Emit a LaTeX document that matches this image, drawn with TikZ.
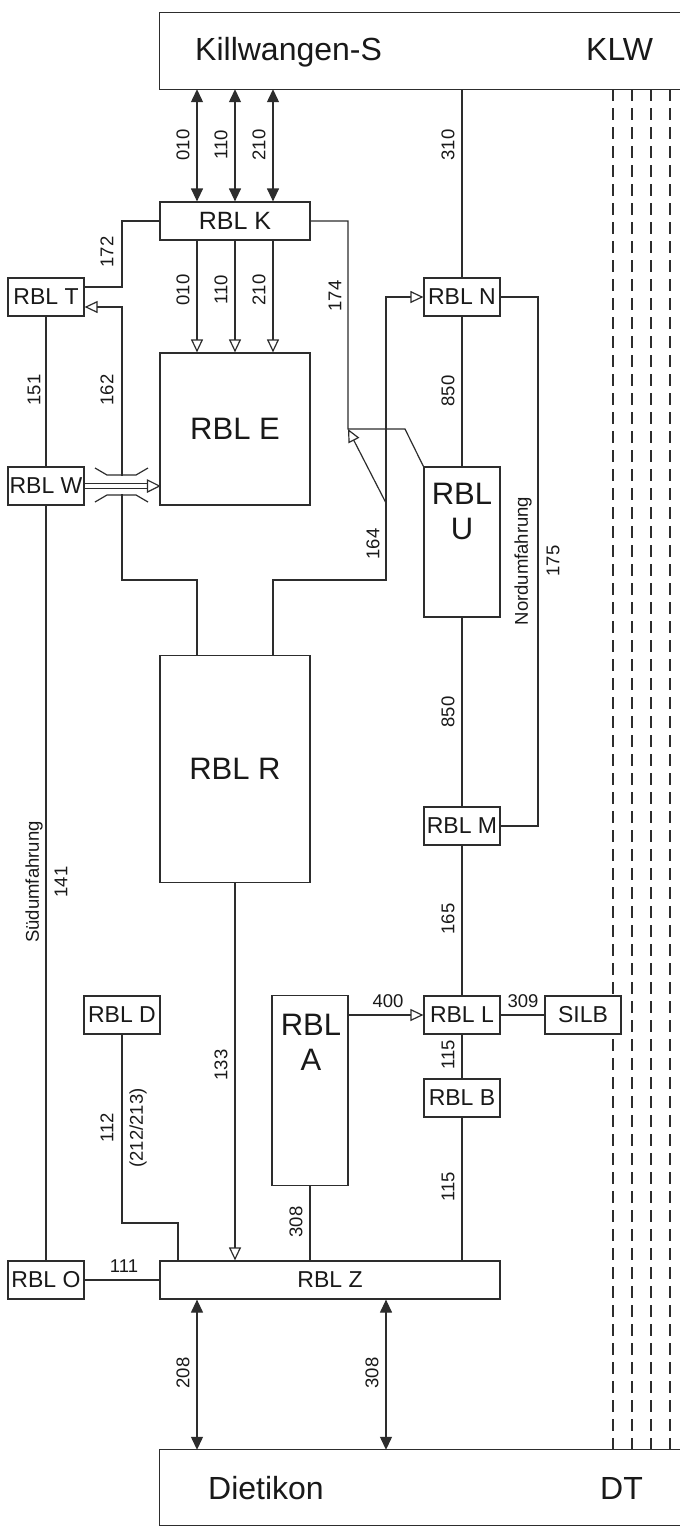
\documentclass[tikz,border=0pt]{standalone}
\usepackage{fontspec}
\setmainfont{Liberation Sans}
\usetikzlibrary{arrows.meta,calc}
\definecolor{lncol}{RGB}{45,45,45}
\definecolor{tx}{RGB}{25,25,25}
\begin{document}
\begin{tikzpicture}[x=1pt,y=-1pt,
  ln/.style={draw=lncol,line width=1.2pt},
  box/.style={draw=lncol,line width=1.2pt,rectangle,inner sep=0pt,text=tx,align=center,fill=white},
  sbox/.style={box,minimum width=76pt,minimum height=38pt,font=\fontsize{23}{26}\selectfont},
  bigbox/.style={box,font=\fontsize{31}{35}\selectfont},
  bigtxt/.style={text=tx,inner sep=0pt,align=center,font=\fontsize{31}{35}\selectfont},
  station/.style={text=tx,inner sep=0pt,font=\fontsize{32}{36}\selectfont,anchor=base west},
  lab/.style={text=tx,inner sep=0pt,font=\fontsize{18.5}{20}\selectfont,rotate=90},
  hlab/.style={text=tx,inner sep=0pt,font=\fontsize{18.5}{20}\selectfont},
  dbl/.style={ln,{Triangle[length=13pt,width=12pt]}-{Triangle[length=13pt,width=12pt]}},
  oarr/.style={ln,-{Triangle[open,length=13pt,width=12pt]}},
  dsh/.style={draw=lncol,line width=1.2pt,dash pattern=on 12pt off 7pt},
]
\useasboundingbox (0,0) rectangle (680,1529);
\fill[white] (0,0) rectangle (680,1529);

% column / row helpers
\foreach \c in {122,178,197,235,273,386,538,613,632,651,670} {\coordinate (x\c) at (\c,0);}
\coordinate (y580) at (0,580);
\coordinate (y1223) at (0,1223);

% station boxes (open to the right)
\node[minimum width=520pt,minimum height=76pt,inner sep=0pt] (kil) at (420,51) {};
\draw[ln] (kil.north east) -- (kil.north west) -- (kil.south west) -- (kil.south east);
\node[station] (kiltxt) at (195,60) {Killwangen-S};
\node[station] (klw) at (586,60) {KLW};
\node[minimum width=520pt,minimum height=75pt,inner sep=0pt] (die) at (420,1487.5) {};
\draw[ln] (die.south east) -- (die.south west) -- (die.north west) -- (die.north east);
\node[station] (dietxt) at (208,1499) {Dietikon};
\node[station] (dt) at (600,1499) {DT};

% dashed tracks
\foreach \c in {613,632,651,670} {\draw[dsh] (x\c |- kil.south) -- (x\c |- die.north);}

% RBL boxes
\node[sbox,minimum width=150pt,font=\fontsize{25}{28}\selectfont] (K) at (235,221) {RBL K};
\node[sbox] (T) at (46,297) {RBL T};
\node[sbox] (N) at (462,297) {RBL N};
\node[bigbox,minimum width=150pt,minimum height=152pt] (E) at (235,429) {RBL E};
\node[sbox] (W) at (46,486) {RBL W};
\node[box,minimum width=76pt,minimum height=150pt] (U) at (462,542) {};
\node[bigtxt] (Ut) at (462,511) {RBL\\U};
\node[bigbox,minimum width=150pt,minimum height=227pt] (R) at (235,769) {RBL R};
\node[sbox] (M) at (462,826) {RBL M};
\node[sbox] (D) at (122,1015) {RBL D};
\node[box,minimum width=76pt,minimum height=190pt] (A) at (310,1090.5) {};
\node[bigtxt] (At) at (311,1042) {RBL\\A};
\node[sbox] (L) at (462,1015) {RBL L};
\node[sbox] (S) at (583,1015) {SILB};
\node[sbox] (B) at (462,1098) {RBL B};
\node[sbox] (O) at (46,1280) {RBL O};
\node[sbox,minimum width=340pt] (Z) at (330,1280) {RBL Z};

% Killwangen <-> RBL K, RBL K -> RBL E
\foreach \c in {197,235,273} {
  \draw[dbl] (x\c |- kil.south) -- (x\c |- K.north);
  \draw[oarr] (x\c |- K.south) -- (x\c |- E.north);
}
\draw[ln] (N.north |- kil.south) -- (N.north);

% 172
\draw[ln] ([yshift=10pt]T.east) -| (x122 |- K.west) -- (K.west);
% 162
\draw[oarr] (x197 |- R.north) |- (x122 |- y580) |- ([yshift=-10pt]T.east);
% bridge W -> E
\coordinate (wE) at (E.west |- W.east);
\fill[white] (108,476.2) rectangle (136,493.8);
\draw[ln] ([yshift=2.8pt]W.east) -- ([yshift=2.8pt,xshift=-12pt]wE);
\draw[ln] ([yshift=-2.8pt]W.east) -- ([yshift=-2.8pt,xshift=-12pt]wE);
\draw[ln,fill=white] ([xshift=-12pt,yshift=6pt]wE) -- (wE) -- ([xshift=-12pt,yshift=-6pt]wE) -- cycle;
\draw[ln] (95,468) -- (107,475) -- (136,475) -- (148,468);
\draw[ln] (95,502) -- (107,495) -- (136,495) -- (148,502);

% 174
\coordinate (a174) at (348,429);
\coordinate (b174) at (405,429);
\draw[ln] (K.east) -| (a174) -- (b174) -- (U.north west);
% 164
\coordinate (c164) at (386,503);
\draw[oarr] (x273 |- R.north) |- (x386 |- y580) |- (N.west);
\draw[oarr] (c164) -- (a174);

% north column
\draw[ln] (N.south) -- (U.north);
\draw[ln] (U.south) -- (M.north);
\draw[ln] (M.south) -- (L.north);
\draw[ln] (L.south) -- (B.north);
\draw[ln] (B.south) -- (B.south |- Z.north);
% 175
\draw[ln] (N.east) -| (x538 |- M.east) -- (M.east);

% south column
\draw[ln] (T.south) -- (W.north);
\draw[ln] (W.south) -- (O.north);
\draw[ln] (O.east) -- (Z.west);

% 133, 112, 308, 400, 309
\draw[oarr] (R.south) -- (R.south |- Z.north);
\draw[ln] (D.south) |- (x178 |- y1223) -- (x178 |- Z.north);
\draw[ln] (A.south) -- (A.south |- Z.north);
\draw[oarr] (A.east |- L.west) -- (L.west);
\draw[ln] (L.east) -- (S.west);

% RBL Z <-> Dietikon
\draw[dbl] (x197 |- Z.south) -- (x197 |- die.north);
\draw[dbl] (x386 |- Z.south) -- (x386 |- die.north);

% labels
\node[lab] (l010a) at (183,145) {010};
\node[lab] (l110a) at (221,145) {110};
\node[lab] (l210a) at (259,145) {210};
\node[lab] (l310) at (448,145) {310};
\node[lab] (l010b) at (183,290) {010};
\node[lab] (l110b) at (221,290) {110};
\node[lab] (l210b) at (259,290) {210};
\node[lab] (l172) at (107,252) {172};
\node[lab] (l174) at (335,296) {174};
\node[lab] (l151) at (34,390) {151};
\node[lab] (l162) at (107,390) {162};
\node[lab] (l850a) at (448,391) {850};
\node[lab] (l164) at (373,544) {164};
\node[lab] (lnord) at (523,561) {Nordumfahrung};
\node[lab] (l175) at (553,561) {175};
\node[lab] (l850b) at (448,712) {850};
\node[lab] (lsued) at (34,882) {Südumfahrung};
\node[lab] (l141) at (61,882) {141};
\node[lab] (l165) at (448,919) {165};
\node[lab] (l133) at (221,1065) {133};
\node[lab] (l112) at (107,1128) {112};
\node[lab] (l212) at (138,1128) {(212/213)};
\node[lab] (l115a) at (448,1055) {115};
\node[lab] (l115b) at (448,1187) {115};
\node[lab] (l308a) at (296,1222) {308};
\node[hlab] (l400) at (388,1001) {400};
\node[hlab] (l309) at (523,1001) {309};
\node[hlab] (l111) at (124,1266) {111};
\node[lab] (l208) at (183,1373) {208};
\node[lab] (l308b) at (372,1373) {308};
\end{tikzpicture}
\end{document}
